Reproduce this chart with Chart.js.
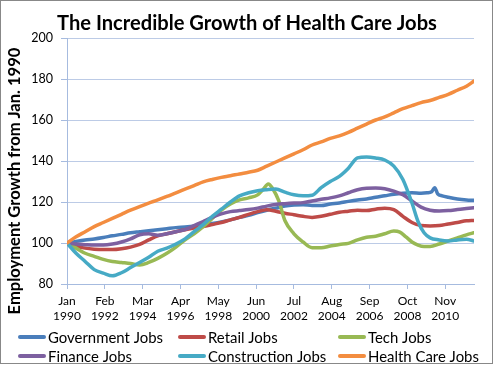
<!DOCTYPE html>
<html><head><meta charset="utf-8">
<script src="https://cdn.jsdelivr.net/npm/chart.js@4.4.0/dist/chart.umd.min.js"></script>
<style>html,body{margin:0;padding:0;background:#fff;}canvas{display:block;}</style>
</head><body>
<canvas id="c" width="495" height="366"></canvas>
<script>
const chartTitle = 'The Incredible Growth of Health Care Jobs';
const yAxisTitle = 'Employment Growth from Jan. 1990';
const seriesNames = ['Government Jobs','Retail Jobs','Tech Jobs','Finance Jobs','Construction Jobs','Health Care Jobs'];
const seriesColors = ['#4a7ebb','#be4b48','#98b954','#7d60a0','#46aac5','#f38d40'];

// x = months since Jan 1990
const tickMonths = [0,25,50,75,100,125,150,175,200,225,250];
const tickMonthLabels = ['Jan','Feb','Mar','Apr','May','Jun','Jul','Aug','Sep','Oct','Nov'];
const tickYearLabels = ['1990','1992','1994','1996','1998','2000','2002','2004','2006','2008','2010'];
const yTicks = [80,100,120,140,160,180,200];

const stdMonths = [0,6,12,18,24,30,36,42,48,54,60,66,72,78,84,90,96,102,108,114,120,126,132,138,144,150,156,162,168,174,180,186,192,198,204,210,216,222,228,234,240,246,252,258,264,269];

const govMonths = [0,6,12,18,24,30,36,42,48,54,60,66,72,78,84,90,96,102,108,114,120,126,132,138,144,150,156,162,168,174,180,186,192,198,204,210,216,222,228,234,238,241,243,245,248,252,258,264,269];
const govValues = [100,100.8,101.5,102,102.7,103.5,104.2,105,105.5,106,106.5,107,107.5,107.8,108.2,108.8,109.5,110.3,111.3,112.5,113.5,114.8,116,117,118,118.5,118.7,118.3,118.3,119,119.5,120.3,121,121.5,122.3,123,123.8,124.3,124.5,124.3,124.5,125,127,124,123,122.3,121.5,121,120.8];

const retailValues = [100,98.5,97.5,97,96.8,96.8,97.2,98,99.3,101.5,103.5,104.5,105.5,106.5,107.3,108,109,110,111.3,112.5,114,115.3,116.2,115.5,114.5,113.8,113,112.5,113,114,115,115.5,116,115.8,116.5,117,116.3,113,110,108.5,108.3,108.5,109.3,110,110.8,111];

const techMonths = [0,6,12,18,24,30,36,42,48,54,60,66,72,78,84,90,96,102,108,114,120,126,130,133,136,140,144,150,156,162,168,174,180,186,192,198,204,210,216,220,224,228,232,236,240,246,252,258,264,269];
const techValues = [100,97.5,95,93.5,92,91,90.5,90,89.3,90.5,92.5,95,98,101.5,104.5,108,112,116,119,121,122,123.5,126.5,128.8,126.5,120.5,111,104.5,100.5,97.7,97.7,98.5,99.3,99.8,101.5,102.8,103.3,104.5,105.8,105.3,103,100.5,99,98.3,98.3,99.5,101,102.5,104,105];

const financeValues = [100,99.5,99.2,99,99,99.5,100.5,102,104,104.5,103.8,104.5,105.5,106.5,108.5,110.5,112.5,114.2,115.3,115.8,116.3,117,118,118.8,119.2,119.5,119.7,120.5,121.3,122,123,124.5,126,126.7,126.8,126.5,125.3,123.5,120.5,117.5,116,115.6,115.8,116.3,116.8,117.2];

const constrMonths = [0,6,12,18,24,30,36,42,48,54,60,66,72,78,84,90,96,102,108,114,120,126,132,138,144,150,156,162,168,174,180,186,192,198,204,210,216,222,228,232,236,240,246,252,258,264,269];
const constrValues = [100,95,91,87,85.3,84,85.5,88,90.5,93,96,97.5,99.5,102,105.5,109,113,116.5,120,123,124.5,125.5,126,126.3,124.8,123.5,123,123.3,127,130,132.5,136.5,141.5,142,141.5,140.5,137.5,131,119.5,110.5,105,102.5,101.5,101,101.5,101.8,101];

const healthValues = [100,103,105.5,108,110,112,114,116,117.8,119.5,121,122.7,124.5,126.3,128,129.8,131,132,132.8,133.7,134.5,135.5,137.5,139.5,141.5,143.5,145.5,147.8,149.3,151,152.3,154,156,158,160,161.5,163.5,165.5,167,168.5,169.5,171,172.5,174.5,176.5,179];

const FAMILY = 'Lato, "DejaVu Sans", sans-serif';
function fitSize(text, weight, target) {
  const c = document.createElement('canvas').getContext('2d');
  c.font = weight + ' 100px ' + FAMILY;
  return 100 * target / c.measureText(text).width;
}
const titleSize = fitSize(chartTitle, 'bold', 380);
const yTitleSize = fitSize(yAxisTitle, 'bold', 267);
const legendSize = fitSize('Government Jobs', 'normal', 115);

function pts(ms, vs) { return ms.map((m, i) => ({x: m, y: vs[i]})); }
const seriesData = [
  pts(govMonths, govValues),
  pts(stdMonths, retailValues),
  pts(techMonths, techValues),
  pts(stdMonths, financeValues),
  pts(constrMonths, constrValues),
  pts(stdMonths, healthValues)
];

const gridColor = '#bccbe6';
const axisColor = '#a6bbdf';

const bgPlugin = {
  id: 'bg',
  beforeDraw(chart) {
    const ctx = chart.ctx;
    ctx.save();
    ctx.fillStyle = '#fff';
    ctx.fillRect(0, 0, chart.width, chart.height);
    ctx.strokeStyle = '#888';
    ctx.lineWidth = 1;
    ctx.strokeRect(0.5, 0.5, 492, 363);
    ctx.restore();
  }
};
const yTitlePlugin = {
  id: 'yTitle',
  afterDraw(chart) {
    const ctx = chart.ctx;
    ctx.save();
    ctx.translate(15, 181);
    ctx.rotate(-Math.PI / 2);
    ctx.font = 'bold ' + yTitleSize + 'px ' + FAMILY;
    ctx.textAlign = 'center';
    ctx.textBaseline = 'middle';
    ctx.fillStyle = '#000';
    ctx.fillText(yAxisTitle, 0, 0);
    ctx.restore();
  }
};
const legendPlugin = {
  id: 'gridLegend',
  afterDraw(chart) {
    const ctx = chart.ctx;
    const cols = [18, 178, 338];
    const rows = [337, 356];
    ctx.save();
    ctx.font = legendSize + 'px ' + FAMILY;
    ctx.textBaseline = 'middle';
    ctx.textAlign = 'left';
    chart.data.datasets.forEach((ds, i) => {
      const x = cols[i % 3], y = rows[Math.floor(i / 3)];
      ctx.strokeStyle = ds.borderColor;
      ctx.lineWidth = 4;
      ctx.lineCap = 'round';
      ctx.beginPath();
      ctx.moveTo(x + 2, y);
      ctx.lineTo(x + 26, y);
      ctx.stroke();
      ctx.fillStyle = '#000';
      ctx.fillText(ds.label, x + 30, y + 1);
    });
    ctx.restore();
  }
};

new Chart(document.getElementById('c'), {
  type: 'line',
  data: {
    datasets: seriesNames.map((n, i) => ({
      label: n,
      data: seriesData[i],
      borderColor: seriesColors[i],
      backgroundColor: seriesColors[i],
      borderWidth: 3.5,
      pointRadius: 0,
      cubicInterpolationMode: 'monotone',
      borderCapStyle: 'round',
      borderJoinStyle: 'round',
      order: 6 - i
    }))
  },
  options: {
    responsive: false,
    animation: false,
    devicePixelRatio: 1,
    layout: {padding: {left: 20, right: 21, top: 0, bottom: 0}},
    plugins: {
      legend: {display: false},
      tooltip: {enabled: false},
      title: {
        display: true,
        text: chartTitle,
        color: '#000',
        font: {family: FAMILY, weight: 'bold', size: titleSize, lineHeight: 1.2},
        padding: {top: 11, bottom: 38 - 11 - titleSize * 1.2}
      }
    },
    scales: {
      x: {
        type: 'linear',
        min: 0,
        max: 269,
        afterBuildTicks: s => { s.ticks = tickMonths.map(v => ({value: v})); },
        afterFit: s => { s.height = 82; },
        grid: {drawOnChartArea: false, drawTicks: true, tickLength: 5, color: axisColor},
        border: {color: axisColor, width: 1},
        ticks: {
          autoSkip: false, maxRotation: 0, minRotation: 0, padding: 4, color: '#000',
          font: {family: FAMILY, size: 12, lineHeight: 1.3},
          callback: v => { const i = tickMonths.indexOf(v); return i < 0 ? '' : [tickMonthLabels[i], tickYearLabels[i]]; }
        }
      },
      y: {
        min: yTicks[0],
        max: yTicks[yTicks.length - 1],
        afterBuildTicks: s => { s.ticks = yTicks.map(v => ({value: v})); },
        afterFit: s => { s.width = 47; },
        grid: {color: gridColor, tickLength: 6, tickColor: axisColor},
        border: {color: axisColor, width: 1},
        ticks: {padding: 8, color: '#000', font: {family: FAMILY, size: 12.5}}
      }
    }
  },
  plugins: [bgPlugin, yTitlePlugin, legendPlugin]
});
</script>
</body></html>
